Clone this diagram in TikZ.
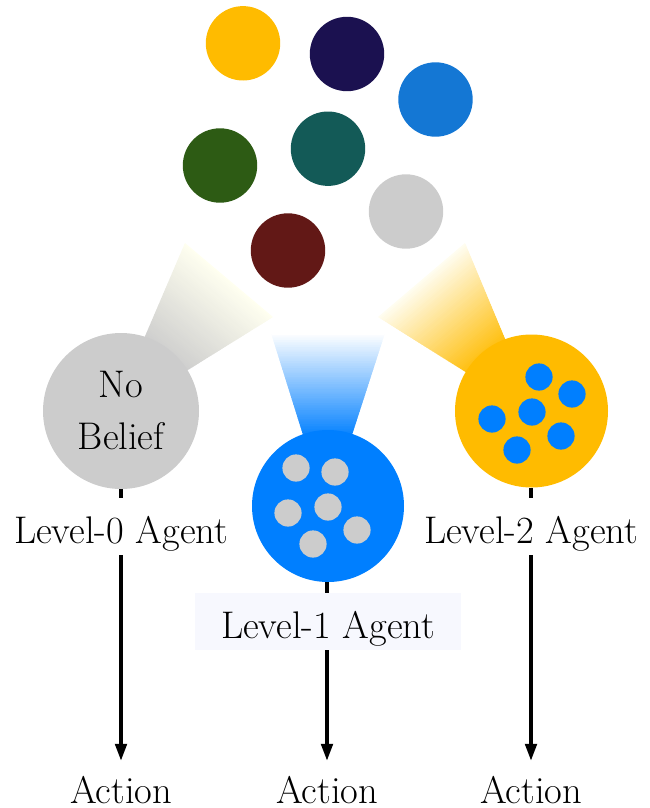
\documentclass[tikz,border=0pt]{standalone}
\usepackage{fontspec}
\usetikzlibrary{arrows.meta,calc}

\definecolor{cYellow}{HTML}{FFBB00}
\definecolor{cNavy}{HTML}{1B1150}
\definecolor{cBlue}{HTML}{1477D4}
\definecolor{cGreen}{HTML}{2D5B14}
\definecolor{cTeal}{HTML}{135A57}
\definecolor{cGray}{HTML}{CCCCCC}
\definecolor{cRed}{HTML}{621816}
\definecolor{agentBlue}{HTML}{007FFF}
\definecolor{ivory}{HTML}{FFFFF0}
\definecolor{paleCream}{HTML}{FFFDF0}
\definecolor{tagBlue}{HTML}{F7F8FE}

% A tapered light beam: near edge (#1,#2), far edge (#3,#4),
% coloured #5 at the near edge fading to #6 at the far edge.
\newcommand\lightbeam[6]{%
  \foreach \i in {0,...,59}{%
    \pgfmathsetmacro\ta{\i/60}%
    \pgfmathsetmacro\tb{min(1,(\i+1.4)/60)}%
    \pgfmathtruncatemacro\pc{100-100*(\i+0.5)/60}%
    \fill[#5!\pc!#6] ($#1!\ta!#3$) -- ($#1!\tb!#3$) -- ($#2!\tb!#4$) -- ($#2!\ta!#4$) -- cycle;
  }}

\begin{document}
\begin{tikzpicture}[x=1pt,y=-1pt,
  every node/.style={font={\fontsize{38.5}{52}\selectfont}},
  agent/.style={circle, inner sep=0pt, align=center},
  flow/.style={line width=3.5pt, -{Triangle[length=17pt,width=11.5pt]}},
  tag/.style={anchor=base, text height=45pt, text depth=12pt, inner ysep=0pt, inner xsep=4pt, fill=white},
  act/.style={anchor=base, text height=42pt, text depth=0pt, inner ysep=0pt, inner xsep=0pt}]
\useasboundingbox (0,0) rectangle (649,808);

% the shared world of coloured beliefs
\fill[cYellow] (243,43.3)  circle[radius=37.2pt];
\fill[cNavy]   (347,54)    circle[radius=37.2pt];
\fill[cBlue]   (435.5,99.5) circle[radius=37.2pt];
\fill[cGreen]  (220,165.5) circle[radius=37.2pt];
\fill[cTeal]   (328,148.7) circle[radius=37.2pt];
\fill[cGray]   (406,211.5) circle[radius=37.2pt];
\fill[cRed]    (288,250.5) circle[radius=37.2pt];

% beams of attention
\lightbeam{(143,341)}{(183,373)}{(185,243)}{(273,317)}{cGray}{ivory}
\lightbeam{(304,438)}{(351,438)}{(271,333)}{(385,333)}{agentBlue}{white}
\lightbeam{(472,376)}{(508,346)}{(378,317)}{(465,243)}{cYellow}{paleCream}

% agents
\node[agent, fill=cGray, minimum size=156pt] (L0) at (121,411) {No\\Belief};
\node[agent, fill=agentBlue, minimum size=152pt] (L1) at (328,506) {};
\node[agent, fill=cYellow, minimum size=153pt] (L2) at (531.5,411) {};

% level-1 beliefs
\foreach \p in {(296,468),(335,472),(288,513),(328,507),(357,530),(313,544)}
  \fill[cGray] \p circle[radius=13.6pt];
% level-2 beliefs
\foreach \p in {(539,377),(572,394),(532,412),(492,419),(561,436),(517,450)}
  \fill[agentBlue] \p circle[radius=13.6pt];

% actions
\node[act] (A0) at (121,803) {Action};
\node[act] (A1) at (327,803) {Action};
\node[act] (A2) at (531,803) {Action};

\draw[flow] (L0.south) -- (A0.north);
\draw[flow] (L1.south -| A1) -- (A1.north);
\draw[flow] (L2.south -| A2) -- (A2.north);

% agent labels
\node[tag] (T0) at (121,543) {Level-0 Agent};
\node[tag, fill=tagBlue, minimum width=266pt, inner xsep=0pt] (T1) at (328,638) {Level-1 Agent};
\node[tag] (T2) at (531,543) {Level-2 Agent};
\end{tikzpicture}
\end{document}
